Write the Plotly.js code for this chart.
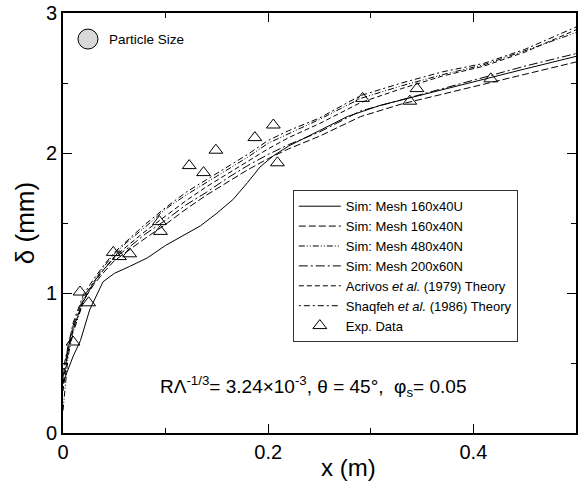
<!DOCTYPE html>
<html>
<head>
<meta charset="utf-8">
<script src="https://cdn.plot.ly/plotly-3.0.1.min.js"></script>
<style>html,body{margin:0;padding:0;background:#fff;}#chart{width:585px;height:490px;}</style>
</head>
<body>
<div id="chart"></div>
<script>
// Sim: Mesh 160x40U (solid)
const xSolid = [0, 0.005, 0.01, 0.017, 0.026, 0.039, 0.05, 0.065, 0.082, 0.1, 0.12, 0.134, 0.15, 0.166, 0.18, 0.192, 0.205, 0.22, 0.25, 0.277, 0.309, 0.341, 0.37, 0.407, 0.45, 0.5];
const ySolid = [0.36, 0.45, 0.55, 0.66, 0.88, 1.08, 1.14, 1.19, 1.25, 1.34, 1.42, 1.48, 1.57, 1.67, 1.79, 1.9, 1.98, 2.05, 2.16, 2.26, 2.34, 2.40, 2.45, 2.52, 2.60, 2.69];

// common x grid for the other curves
const xGrid = [0, 0.005, 0.01, 0.02, 0.03, 0.04, 0.05, 0.065, 0.08, 0.1, 0.12, 0.14, 0.16, 0.18, 0.2, 0.22, 0.25, 0.29, 0.33, 0.37, 0.41, 0.45, 0.5];
const y160N = [0.35, 0.6, 0.75, 0.95, 1.06, 1.15, 1.23, 1.31, 1.39, 1.49, 1.6, 1.7, 1.79, 1.88, 1.96, 2.03, 2.12, 2.26, 2.35, 2.42, 2.49, 2.56, 2.65];
const y480N = [0.16, 0.55, 0.72, 0.94, 1.08, 1.19, 1.28, 1.38, 1.47, 1.6, 1.7, 1.79, 1.88, 1.97, 2.07, 2.14, 2.24, 2.39, 2.48, 2.56, 2.63, 2.73, 2.86];
const y200N = [0.4, 0.62, 0.77, 0.97, 1.08, 1.17, 1.25, 1.33, 1.42, 1.52, 1.63, 1.72, 1.82, 1.91, 1.99, 2.06, 2.15, 2.3, 2.38, 2.46, 2.54, 2.62, 2.71];
const yAcrivos = [0.3, 0.58, 0.74, 0.95, 1.07, 1.17, 1.26, 1.35, 1.44, 1.55, 1.66, 1.76, 1.85, 1.94, 2.03, 2.11, 2.21, 2.36, 2.46, 2.55, 2.62, 2.72, 2.88];
const yShaqfeh = [0.45, 0.63, 0.79, 0.99, 1.1, 1.2, 1.29, 1.39, 1.49, 1.61, 1.72, 1.81, 1.9, 1.99, 2.09, 2.16, 2.25, 2.41, 2.5, 2.58, 2.64, 2.74, 2.9];

// experimental data
const xExp = [0.0098, 0.0166, 0.025, 0.049, 0.055, 0.065, 0.094, 0.095, 0.123, 0.137, 0.149, 0.187, 0.205, 0.209, 0.292, 0.338, 0.345, 0.417];
const yExp = [0.65, 1.007, 0.93, 1.29, 1.26, 1.28, 1.51, 1.44, 1.91, 1.86, 2.02, 2.11, 2.2, 1.93, 2.39, 2.37, 2.46, 2.53];

const names = ['Sim: Mesh 160x40U', 'Sim: Mesh 160x40N', 'Sim: Mesh 480x40N', 'Sim: Mesh 200x60N',
  'Acrivos <i>et al.</i> (1979) Theory', 'Shaqfeh <i>et al.</i> (1986) Theory', 'Exp. Data'];
const xTickVals = [0, 0.2, 0.4];
const xTickText = ['0', '0.2', '0.4'];
const yTickVals = [0, 1, 2, 3];
const yTickText = ['0', '1', '2', '3'];

const FONT = 'Liberation Sans, Arial, Helvetica, sans-serif';
const ln = (dash) => ({color: '#000', width: 1, dash: dash});

const traces = [
  {x: xSolid, y: ySolid, mode: 'lines', name: names[0], line: ln('solid')},
  {x: xGrid, y: y160N, mode: 'lines', name: names[1], line: ln('7px,3px')},
  {x: xGrid, y: y480N, mode: 'lines', name: names[2], line: ln('6px,2px,1px,2px,1px,2px')},
  {x: xGrid, y: y200N, mode: 'lines', name: names[3], line: ln('9px,3px,2px,3px')},
  {x: xGrid, y: yAcrivos, mode: 'lines', name: names[4], line: ln('5px,3px')},
  {x: xGrid, y: yShaqfeh, mode: 'lines', name: names[5], line: ln('2px,3px,6px,3px')},
  {x: xExp, y: yExp, mode: 'markers', name: names[6],
   marker: {symbol: 'triangle-up-open', size: 12, color: '#000', line: {width: 1, color: '#000'}}}
];

const layout = {
  width: 585, height: 490,
  margin: {l: 63, r: 9, t: 13, b: 57},
  paper_bgcolor: '#fff', plot_bgcolor: '#fff',
  font: {family: FONT, color: '#000'},
  showlegend: true,
  legend: {x: 0.448, y: 0.578, xanchor: 'left', yanchor: 'top',
    bordercolor: '#333', borderwidth: 1, bgcolor: '#fff',
    font: {family: FONT, size: 13, color: '#000'}, tracegroupgap: 0, itemwidth: 42},
  xaxis: {range: [0, 0.5], tickvals: xTickVals, ticktext: xTickText,
    ticks: 'inside', ticklen: 9, tickwidth: 1, tickcolor: '#000',
    minor: {dtick: 0.1, ticks: 'inside', ticklen: 5, tickcolor: '#000', showgrid: false},
    showline: true, linewidth: 2, linecolor: '#000', mirror: 'ticks',
    showgrid: false, zeroline: false,
    tickfont: {family: FONT, size: 20, color: '#000'}},
  yaxis: {range: [0, 3], tickvals: yTickVals, ticktext: yTickText,
    ticks: 'inside', ticklen: 9, tickwidth: 1, tickcolor: '#000',
    minor: {dtick: 0.5, ticks: 'inside', ticklen: 5, tickcolor: '#000', showgrid: false},
    showline: true, linewidth: 2, linecolor: '#000', mirror: 'ticks',
    showgrid: false, zeroline: false,
    tickfont: {family: FONT, size: 20, color: '#000'},
    title: {text: 'δ (mm)', font: {family: FONT, size: 26, color: '#000'}, standoff: 4}},
  shapes: [
    {type: 'circle', xref: 'paper', yref: 'paper', xsizemode: 'pixel', ysizemode: 'pixel',
     xanchor: 0.0487, yanchor: 0.938, x0: -10, x1: 10, y0: -10, y1: 10,
     fillcolor: '#d9d9d9', line: {color: '#000', width: 1}}
  ],
  annotations: [
    {xref: 'paper', yref: 'paper', x: 0.0858, y: 0.938, xanchor: 'left', yanchor: 'middle',
     text: 'Particle Size', showarrow: false, font: {family: FONT, size: 13.5, color: '#000'}},
    {xref: 'paper', yref: 'paper', x: 0.487, y: 0.11, xanchor: 'center', yanchor: 'middle',
     text: 'RΛ<sup>-1/3</sup>= 3.24×10<sup>-3</sup>, θ = 45°,  φ<sub>s</sub>= 0.05',
     showarrow: false, font: {family: FONT, size: 19, color: '#000'}},
    {xref: 'paper', yref: 'paper', x: 0.557, y: -0.083, xanchor: 'center', yanchor: 'middle',
     text: 'x (m)', showarrow: false, font: {family: FONT, size: 24, color: '#000'}}
  ]
};

Plotly.newPlot('chart', traces, layout, {displayModeBar: false, staticPlot: true});
</script>
</body>
</html>
